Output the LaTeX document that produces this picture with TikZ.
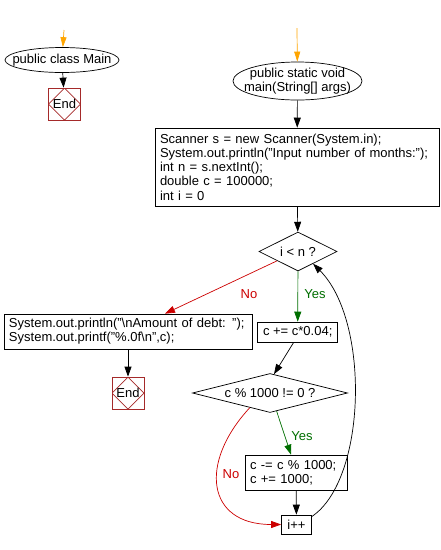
\documentclass[tikz,border=0pt]{standalone}
\usepackage{fontspec}
\setmainfont{Liberation Sans}
\usetikzlibrary{shapes.geometric,arrows.meta}
\definecolor{noRed}{RGB}{204,0,0}
\definecolor{yesGreen}{RGB}{0,110,0}
\definecolor{endRed}{RGB}{165,42,42}
\definecolor{startOrange}{RGB}{255,165,0}
\newcommand{\nowide}[1]{\makebox[0pt]{#1}}
\tikzset{
	arr/.style={-{Triangle[length=10pt,width=7pt]}},
	startarr/.style={draw=startOrange,-{Triangle[length=10pt,width=6pt]}},
	term/.style={draw,ellipse,inner sep=0pt,align=center},
	proc/.style={draw,rectangle,inner xsep=5pt,inner ysep=0pt,align=left},
	decide/.style={draw,diamond,inner sep=0pt},
	endbox/.style={draw=endRed,minimum size=32pt,inner sep=0pt,
		path picture={\draw[endRed] (path picture bounding box.north) -- (path picture bounding box.east) -- (path picture bounding box.south) -- (path picture bounding box.west) -- cycle;}},
}
\begin{document}
\begin{tikzpicture}[x=1pt,y=1pt,line width=0.7pt,font=\fontsize{13}{14.2}\selectfont]
		\useasboundingbox (0,0) rectangle (441,-550);
		\coordinate (clsTop) at (64,-30);
		\node[term,minimum width=114pt,minimum height=25pt] (cls) at (62,-60) {\nowide{public class Main}};
		\node[endbox] (end1) at (64.5,-104) {End};
		\draw[startarr] (clsTop) -- (cls);
		\draw[arr] (cls) -- (end1);
		\coordinate (mainTop) at (297,-28);
		\node[term,minimum width=129pt,minimum height=38pt] (mainS) at (297.5,-81) {\nowide{public static void}\\\nowide{main(String[] args)}};
		\node[proc,text width=274pt,minimum height=78pt] (init) at (297,-167) {Scanner s = new Scanner(System.in);\\System.out.println("Input number of months:");\\int n = s.nextInt();\\double c = 100000;\\int i = 0};
		\node[decide,aspect=2,minimum width=78pt,minimum height=39pt] (chk) at (298,-251.5) {i < n ?};
		\node[proc,text width=238pt,minimum height=35pt] (done) at (128,-331.5) {System.out.println("\textbackslash nAmount of debt: ");\\System.out.printf("\%.0f\textbackslash n",c);};
		\node[endbox] (end2) at (128,-393) {End};
		\node[proc,minimum width=80pt,minimum height=20pt] (add) at (297.7,-332) {c += c*0.04;};
		\node[decide,aspect=4,minimum width=155pt,minimum height=39pt] (chk2) at (270,-393) {c \% 1000 != 0 ?};
		\node[proc,text width=92pt,minimum height=35pt] (fix) at (296,-472.5) {c -= c \% 1000;\\c += 1000;};
		\node[proc,minimum width=30pt,minimum height=19pt] (inc) at (296.5,-524.5) {i++};
		\node[noRed] (no1) at (249,-294) {No};
		\node[yesGreen] (yes1) at (315,-294) {Yes};
		\node[yesGreen] (yes2) at (302,-436) {Yes};
		\node[noRed] (no2) at (231,-474) {No};
		\draw[startarr] (mainTop) -- (mainS);
		\draw[arr] (mainS) -- (init);
		\draw[arr] (init) -- (chk);
		\draw[arr,noRed] (chk.204) -- ([xshift=37pt]done.north);
		\draw[arr,yesGreen] (chk) -- (add);
		\draw[arr] (done) -- (end2);
		\draw[arr] ([xshift=-4pt]add.south) -- (chk2.78);
		\draw[arr,yesGreen] (chk2.-70) -- ([xshift=-5pt]fix.north);
		\draw[arr] (fix) -- (inc);
		\draw[arr,noRed] (chk2.216) .. controls +(-51,-55) and +(-75,0) .. (inc.west);
		\draw[arr] ([yshift=8pt]inc.east) .. controls +(55,37) and +(57,-57) .. (chk.-39);
	\end{tikzpicture}
\end{document}
